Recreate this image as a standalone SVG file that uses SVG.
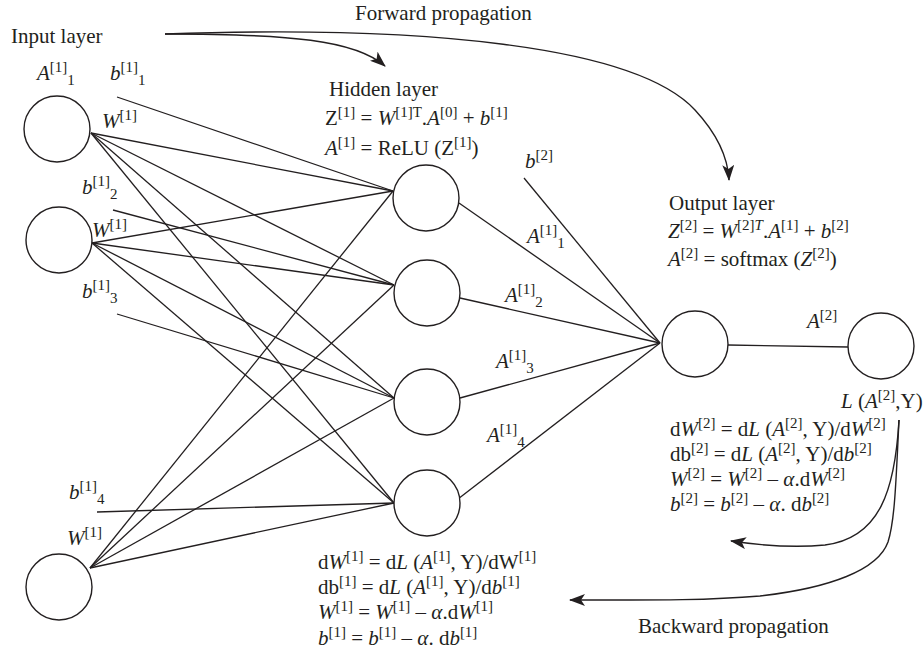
<svg xmlns="http://www.w3.org/2000/svg" width="924" height="659" viewBox="0 0 924 659">
<defs>
<style>
.t{font-family:"Liberation Serif","DejaVu Serif",serif;font-size:21px;fill:#231f20}
.i{font-style:italic}
.s{font-size:15px}
.n{fill:#fff;stroke:#231f20;stroke-width:1.4}
.c{stroke:#231f20;stroke-width:1.3;fill:none}
.a{stroke:#231f20;stroke-width:1.4;fill:none}
</style>
<marker id="ah" viewBox="0 0 16 12" refX="15" refY="6" markerWidth="16" markerHeight="12" orient="auto" markerUnits="userSpaceOnUse"><path d="M0,0 L16,6 L0,12 L4,6 z" fill="#231f20"/></marker>
</defs>
<rect width="924" height="659" fill="#fff"/>
<g id="connectors">
<line class="c" x1="91" y1="133" x2="393" y2="191"/>
<line class="c" x1="91" y1="133" x2="394" y2="285"/>
<line class="c" x1="91" y1="133" x2="394" y2="398"/>
<line class="c" x1="91" y1="133" x2="394" y2="503"/>
<line class="c" x1="92" y1="243" x2="393" y2="191"/>
<line class="c" x1="92" y1="243" x2="394" y2="285"/>
<line class="c" x1="92" y1="243" x2="394" y2="398"/>
<line class="c" x1="92" y1="243" x2="394" y2="503"/>
<line class="c" x1="90" y1="568" x2="393" y2="191"/>
<line class="c" x1="90" y1="568" x2="394" y2="285"/>
<line class="c" x1="90" y1="568" x2="394" y2="398"/>
<line class="c" x1="90" y1="568" x2="394" y2="503"/>
<line class="c" x1="117" y1="97" x2="393" y2="191"/>
<line class="c" x1="113" y1="210" x2="394" y2="285"/>
<line class="c" x1="117" y1="314" x2="394" y2="398"/>
<line class="c" x1="97" y1="512" x2="394" y2="503"/>
<line class="c" x1="459" y1="203" x2="660" y2="343"/>
<line class="c" x1="460" y1="298" x2="660" y2="343"/>
<line class="c" x1="460" y1="398" x2="660" y2="343"/>
<line class="c" x1="458" y1="499" x2="660" y2="343"/>
<line class="c" x1="524" y1="178" x2="660" y2="343"/>
<line class="c" x1="728" y1="345" x2="848" y2="347"/>
<path class="a" d="M165,34 C290,34 355,40 385,66" marker-end="url(#ah)"/>
<path class="a" d="M165,34 C420,25 635,45 695,110 C720,137 728,160 729,180" marker-end="url(#ah)"/>
<path class="a" d="M899,420 C895,490 880,538 825,545 C795,548 765,546 731,541" marker-end="url(#ah)"/>
<path class="a" d="M899,420 C896,480 895,520 888,542 C878,570 830,588 760,596 C700,601 640,600 570,600" marker-end="url(#ah)"/>
</g>
<g id="input1"><circle class="n" cx="57" cy="129" r="33"/></g>
<g id="input2"><circle class="n" cx="59" cy="240" r="33"/></g>
<g id="input3"><circle class="n" cx="59" cy="587" r="33"/></g>
<g id="hidden1"><circle class="n" cx="426" cy="198" r="33"/></g>
<g id="hidden2"><circle class="n" cx="427" cy="293" r="33"/></g>
<g id="hidden3"><circle class="n" cx="427" cy="402" r="33"/></g>
<g id="hidden4"><circle class="n" cx="427" cy="503" r="33"/></g>
<g id="output1"><circle class="n" cx="695" cy="344" r="33"/></g>
<g id="output2"><circle class="n" cx="881" cy="346" r="33"/></g>
<g id="labels" class="t">
<text x="11" y="43">Input layer</text>
<text x="355" y="20">Forward propagation</text>
<text x="37" y="80"><tspan class="i">A</tspan><tspan class="s" dy="-8">[1]</tspan><tspan class="s" dy="13">1</tspan></text>
<text x="110" y="80"><tspan class="i">b</tspan><tspan class="s" dy="-8">[1]</tspan><tspan class="s" dy="13">1</tspan></text>
<text x="102" y="128"><tspan class="i">W</tspan><tspan class="s" dy="-8">[1]</tspan></text>
<text x="82" y="194"><tspan class="i">b</tspan><tspan class="s" dy="-8">[1]</tspan><tspan class="s" dy="13">2</tspan></text>
<text x="92" y="237"><tspan class="i">W</tspan><tspan class="s" dy="-8">[1]</tspan></text>
<text x="82" y="298"><tspan class="i">b</tspan><tspan class="s" dy="-8">[1]</tspan><tspan class="s" dy="13">3</tspan></text>
<text x="69" y="499"><tspan class="i">b</tspan><tspan class="s" dy="-8">[1]</tspan><tspan class="s" dy="13">4</tspan></text>
<text x="67" y="545"><tspan class="i">W</tspan><tspan class="s" dy="-8">[1]</tspan></text>
<text x="329" y="96">Hidden layer</text>
<text x="325" y="125">Z<tspan class="s" dy="-8">[1]</tspan><tspan dy="8"> = </tspan><tspan class="i">W</tspan><tspan class="s" dy="-8">[1]T</tspan><tspan dy="8">.</tspan><tspan class="i">A</tspan><tspan class="s" dy="-8">[0]</tspan><tspan dy="8"> + </tspan><tspan class="i">b</tspan><tspan class="s" dy="-8">[1]</tspan></text>
<text x="325" y="155"><tspan class="i">A</tspan><tspan class="s" dy="-8">[1]</tspan><tspan dy="8"> = ReLU (Z</tspan><tspan class="s" dy="-8">[1]</tspan><tspan dy="8">)</tspan></text>
<text x="525" y="168"><tspan class="i">b</tspan><tspan class="s" dy="-8">[2]</tspan></text>
<text x="527" y="243"><tspan class="i">A</tspan><tspan class="s" dy="-8">[1]</tspan><tspan class="s" dy="13">1</tspan></text>
<text x="505" y="302"><tspan class="i">A</tspan><tspan class="s" dy="-8">[1]</tspan><tspan class="s" dy="13">2</tspan></text>
<text x="496" y="368"><tspan class="i">A</tspan><tspan class="s" dy="-8">[1]</tspan><tspan class="s" dy="13">3</tspan></text>
<text x="487" y="442"><tspan class="i">A</tspan><tspan class="s" dy="-8">[1]</tspan><tspan class="s" dy="13">4</tspan></text>
<text x="669" y="210">Output layer</text>
<text x="668" y="238"><tspan class="i">Z</tspan><tspan class="s" dy="-8">[2]</tspan><tspan dy="8"> = </tspan><tspan class="i">W</tspan><tspan class="s" dy="-8">[2]<tspan class="i">T</tspan></tspan><tspan dy="8">.</tspan><tspan class="i">A</tspan><tspan class="s" dy="-8">[1]</tspan><tspan dy="8"> + </tspan><tspan class="i">b</tspan><tspan class="s" dy="-8">[2]</tspan></text>
<text x="668" y="266"><tspan class="i">A</tspan><tspan class="s" dy="-8">[2]</tspan><tspan dy="8"> = softmax (</tspan><tspan class="i">Z</tspan><tspan class="s" dy="-8">[2]</tspan><tspan dy="8">)</tspan></text>
<text x="807" y="328"><tspan class="i">A</tspan><tspan class="s" dy="-8">[2]</tspan></text>
<text x="841" y="408"><tspan class="i">L</tspan> (<tspan class="i">A</tspan><tspan class="s" dy="-8">[2]</tspan><tspan dy="8">,Y)</tspan></text>
<text x="670" y="436">d<tspan class="i">W</tspan><tspan class="s" dy="-8">[2]</tspan><tspan dy="8"> = d</tspan><tspan class="i">L</tspan> (<tspan class="i">A</tspan><tspan class="s" dy="-8">[2]</tspan><tspan dy="8">, Y)/d</tspan><tspan class="i">W</tspan><tspan class="s" dy="-8">[2]</tspan></text>
<text x="670" y="461">db<tspan class="s" dy="-8">[2]</tspan><tspan dy="8"> = d</tspan><tspan class="i">L</tspan> (<tspan class="i">A</tspan><tspan class="s" dy="-8">[2]</tspan><tspan dy="8">, Y)/d</tspan><tspan class="i">b</tspan><tspan class="s" dy="-8">[2]</tspan></text>
<text x="670" y="486"><tspan class="i">W</tspan><tspan class="s" dy="-8">[2]</tspan><tspan dy="8"> = </tspan><tspan class="i">W</tspan><tspan class="s" dy="-8">[2]</tspan><tspan dy="8"> – </tspan><tspan class="i">α</tspan>.d<tspan class="i">W</tspan><tspan class="s" dy="-8">[2]</tspan></text>
<text x="670" y="511"><tspan class="i">b</tspan><tspan class="s" dy="-8">[2]</tspan><tspan dy="8"> = </tspan><tspan class="i">b</tspan><tspan class="s" dy="-8">[2]</tspan><tspan dy="8"> – </tspan><tspan class="i">α</tspan>. d<tspan class="i">b</tspan><tspan class="s" dy="-8">[2]</tspan></text>
<text x="318" y="569">d<tspan class="i">W</tspan><tspan class="s" dy="-8">[1]</tspan><tspan dy="8"> = d</tspan><tspan class="i">L</tspan> (<tspan class="i">A</tspan><tspan class="s" dy="-8">[1]</tspan><tspan dy="8">, Y)/dW</tspan><tspan class="s" dy="-8">[1]</tspan></text>
<text x="318" y="594">db<tspan class="s" dy="-8">[1]</tspan><tspan dy="8"> = d</tspan><tspan class="i">L</tspan> (<tspan class="i">A</tspan><tspan class="s" dy="-8">[1]</tspan><tspan dy="8">, Y)/d</tspan><tspan class="i">b</tspan><tspan class="s" dy="-8">[1]</tspan></text>
<text x="318" y="619"><tspan class="i">W</tspan><tspan class="s" dy="-8">[1]</tspan><tspan dy="8"> = </tspan><tspan class="i">W</tspan><tspan class="s" dy="-8">[1]</tspan><tspan dy="8"> – </tspan><tspan class="i">α</tspan>.d<tspan class="i">W</tspan><tspan class="s" dy="-8">[1]</tspan></text>
<text x="318" y="645"><tspan class="i">b</tspan><tspan class="s" dy="-8">[1]</tspan><tspan dy="8"> = </tspan><tspan class="i">b</tspan><tspan class="s" dy="-8">[1]</tspan><tspan dy="8"> – </tspan><tspan class="i">α</tspan>. d<tspan class="i">b</tspan><tspan class="s" dy="-8">[1]</tspan></text>
<text x="638" y="633">Backward propagation</text>
</g>
</svg>
